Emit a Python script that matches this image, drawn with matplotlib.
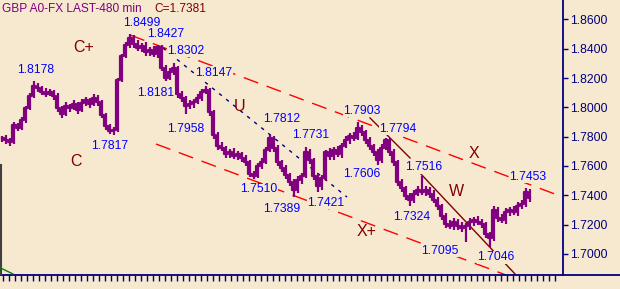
import numpy as np
import matplotlib
matplotlib.use("Agg")
import matplotlib.pyplot as plt
from matplotlib.lines import Line2D

# ---------------- data ----------------
closes = [1.7791, 1.7777, 1.7764, 1.7880, 1.7859, 1.7914, 1.7996, 1.8078, 1.8146, 1.8132,
          1.8105, 1.8091, 1.8105, 1.8078, 1.7996, 1.7955, 1.8009, 1.7996, 1.8023, 1.7982,
          1.8030, 1.8050, 1.8023, 1.8064, 1.8037, 1.7948, 1.7873, 1.7839, 1.7846, 1.8187,
          1.8351, 1.8426, 1.8474, 1.8433, 1.8405, 1.8419, 1.8378, 1.8392, 1.8364, 1.8412,
          1.8269, 1.8201, 1.8242, 1.8269, 1.8091, 1.8064, 1.8009, 1.8023, 1.8037, 1.8064,
          1.8105, 1.8119, 1.7968, 1.7811, 1.7736, 1.7723, 1.7682, 1.7695, 1.7668, 1.7682,
          1.7655, 1.7627, 1.7545, 1.7532, 1.7600, 1.7627, 1.7709, 1.7791, 1.7723, 1.7627,
          1.7586, 1.7538, 1.7491, 1.7436, 1.7504, 1.7532, 1.7695, 1.7641, 1.7532, 1.7463,
          1.7518, 1.7695, 1.7668, 1.7709, 1.7682, 1.7736, 1.7777, 1.7805, 1.7791, 1.7859,
          1.7832, 1.7777, 1.7736, 1.7695, 1.7641, 1.7723, 1.7777, 1.7695, 1.7627, 1.7491,
          1.7450, 1.7395, 1.7368, 1.7409, 1.7436, 1.7422, 1.7436, 1.7409, 1.7368, 1.7327,
          1.7259, 1.7204, 1.7190, 1.7218, 1.7190, 1.7177, 1.7190, 1.7218, 1.7231, 1.7218,
          1.7204, 1.7136, 1.7108, 1.7300, 1.7245, 1.7231, 1.7286, 1.7300, 1.7286, 1.7327,
          1.7341, 1.7422, 1.7381]
# wick extensions above / below bar body (pips)
wick_up = [15, 20, 15, 20, 15, 20, 15, 20, 32, 20, 15, 25, 20, 15, 20, 15, 25, 15, 25, 15,
           25, 20, 15, 25, 20, 15, 15, 15, 20, 15, 15, 20, 25, 20, 25, 20, 25, 20, 25, 15,
           15, 20, 25, 33, 15, 20, 15, 25, 20, 25, 20, 28, 15, 15, 20, 25, 15, 20, 25, 20,
           15, 20, 15, 20, 20, 25, 20, 21, 15, 20, 15, 20, 15, 20, 25, 20, 36, 20, 15, 15,
           20, 15, 25, 20, 25, 20, 25, 20, 25, 44, 20, 15, 20, 15, 20, 25, 17, 15, 20, 15,
           20, 15, 20, 25, 25, 94, 30, 20, 25, 20, 15, 20, 25, 30, 20, 25, 20, 25, 20, 25,
           20, 15, 15, 25, 20, 25, 30, 20, 25, 30, 25, 31, 20]
wick_dn = [25, 30, 30, 15, 20, 15, 20, 15, 15, 25, 20, 20, 15, 25, 30, 25, 15, 30, 15, 30,
           15, 20, 30, 15, 25, 20, 25, 22, 25, 15, 15, 15, 20, 30, 20, 25, 30, 25, 20, 25,
           20, 20, 15, 20, 25, 30, 51, 20, 30, 15, 20, 15, 25, 30, 25, 20, 25, 30, 20, 25,
           30, 25, 20, 22, 15, 20, 15, 15, 30, 25, 30, 25, 30, 47, 20, 30, 15, 30, 25, 42,
           25, 20, 25, 30, 20, 25, 15, 25, 20, 15, 25, 30, 25, 30, 35, 20, 15, 25, 30, 25,
           30, 25, 44, 20, 15, 20, 25, 30, 20, 30, 25, 30, 20, 25, 30, 30, 95, 30, 25, 20,
           25, 30, 62, 20, 30, 20, 25, 30, 20, 25, 20, 20, 25]

yticks = [1.70, 1.72, 1.74, 1.76, 1.78, 1.80, 1.82, 1.84, 1.86]

pivot_labels = ["1.8499", "1.8427", "1.8302", "1.8147", "1.8178", "1.8181", "1.7817",
                "1.7958", "1.7812", "1.7731", "1.7903", "1.7794", "1.7510", "1.7606",
                "1.7389", "1.7421", "1.7516", "1.7453", "1.7324", "1.7095", "1.7046"]
wave_labels = ["C+", "C", "U", "X", "X+", "W"]

# trend lines: (bar, price) endpoints
upper_channel = [(32, 1.8494), (140.25, 1.7388)]
lower_channel = [(38.5, 1.7750), (130.0, 1.6815)]
blue_line = [(40.25, 1.8405), (86.25, 1.7388)]
maroon_1 = [(92.0, 1.7928), (102.0, 1.7655)]
maroon_2 = [(104.5, 1.7552), (128.25, 1.6863)]

title_left = "GBP A0-FX LAST-480 min"
title_right = "C=1.7381"

# ---------------- style ----------------
BG = "#F7E9CF"
PURPLE = "#800080"
NAVY = "#000080"
MAROON = "#800000"
W, H = 620, 289
FONT = "Liberation Sans"

fig = plt.figure(figsize=(W / 100, H / 100), dpi=100, facecolor=BG)
ax_bottom_px = 274.7
ax = fig.add_axes([0, (H - ax_bottom_px) / H, 563 / W, ax_bottom_px / H])
ax.set_facecolor(BG)
ax.set_xlim(-0.5, 140.25)
ax.set_ylim(1.6858, 1.8733)

# price bars
n = len(closes)
x = np.arange(n)
opens = [closes[0]] + closes[:-1]
hi = [max(o, c) + u * 1e-4 for o, c, u in zip(opens, closes, wick_up)]
lo = [min(o, c) - d * 1e-4 for o, c, d in zip(opens, closes, wick_dn)]
ax.vlines(x, lo, hi, color=PURPLE, lw=1.6, zorder=3)
ax.step(x, closes, where="mid", color=PURPLE, lw=1.6, zorder=3)

# trend lines
def seg(pts, **kw):
    ax.plot([p[0] for p in pts], [p[1] for p in pts], **kw)

seg(upper_channel, color="#FF0000", lw=1.0, dashes=(11, 6.5), zorder=2)
seg(lower_channel, color="#FF0000", lw=1.0, dashes=(11, 6.5), zorder=2)
seg(blue_line, color=NAVY, lw=1.0, dashes=(2.5, 4), zorder=2)
seg(maroon_1, color=MAROON, lw=1.0, zorder=2)
seg(maroon_2, color=MAROON, lw=1.0, zorder=2)

# axes styling
for s in ["left", "top", "bottom"]:
    ax.spines[s].set_visible(False)
ax.spines["right"].set_color(NAVY)
ax.spines["right"].set_linewidth(1.3)
ax.yaxis.tick_right()
ax.set_yticks(yticks)
ax.set_yticklabels([f"{v:.4f}" for v in yticks], fontsize=8.7, color=NAVY, family=FONT)
ax.tick_params(axis="y", direction="out", length=3.5, width=1, color=NAVY, pad=1.5)
ax.set_xticks(np.arange(0.175, 138.5, 1.5))
ax.set_xticklabels([])
ax.tick_params(axis="x", direction="out", length=4.3, width=1, color=NAVY)

# bottom baseline across full width
fig.add_artist(Line2D([0, 1], [(H - ax_bottom_px) / H] * 2, transform=fig.transFigure,
                      color=NAVY, lw=1.3))
# left edge & small green indicator
fig.add_artist(Line2D([0.6 / W, 0.6 / W], [(H - 274) / H, (H - 165) / H],
                      transform=fig.transFigure, color="#404040", lw=1.5))
fig.add_artist(Line2D([0, 13 / W], [(H - 267.7) / H, (H - 274) / H],
                      transform=fig.transFigure, color="#008000", lw=1.0))

def px(xp, yp):
    return xp / W, 1 - yp / H

# titles
fig.text(*px(2, 8.5), title_left, color=PURPLE, fontsize=8.6, family=FONT, va="center", ha="left")
fig.text(*px(154, 8.5), title_right, color=MAROON, fontsize=8.6, family=FONT, va="center", ha="left")

pivot_pos = [(142, 22.5), (165.5, 34), (186, 51), (214, 72.5), (36, 70), (156, 93.5),
             (110, 146), (186, 129), (282, 119.5), (311, 135), (362, 111), (398, 129),
             (259, 189), (362, 174), (282, 208.5), (325.5, 202.5), (424, 167.5),
             (528, 177), (412, 217.5), (440, 251), (496, 257.5)]
for lab, (xp, yp) in zip(pivot_labels, pivot_pos):
    fig.text(*px(xp, yp), lab, color="#0000FF", fontsize=8.7, family=FONT,
             ha="center", va="center", zorder=5,
             bbox=dict(facecolor=BG, edgecolor="none", pad=0.3))

wave_pos = [(84, 47), (76, 162), (240, 106), (474, 154), (367, 231), (456, 192)]
for lab, (xp, yp) in zip(wave_labels, wave_pos):
    fig.text(*px(xp, yp), lab, color=MAROON, fontsize=11.5, family=FONT,
             ha="center", va="center", zorder=5)

fig.savefig("out.png", dpi=100, facecolor=BG)
